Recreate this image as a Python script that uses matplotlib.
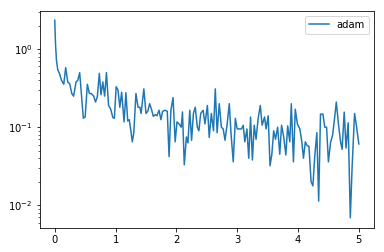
import numpy as np
import matplotlib
matplotlib.use("Agg")
import matplotlib.pyplot as plt

# loss readings (x, value) taken off the curve
x = [0, 0.012, 0.028, 0.05, 0.077, 0.11, 0.148, 0.18, 0.213, 0.246,
     0.28, 0.31, 0.35, 0.38, 0.41, 0.44, 0.47, 0.50, 0.536, 0.57,
     0.60, 0.64, 0.67, 0.70, 0.733, 0.76, 0.79, 0.82, 0.85, 0.885,
     0.92, 0.955, 0.98, 1.01, 1.04, 1.07, 1.10, 1.14, 1.17, 1.20,
     1.225, 1.25, 1.275, 1.30, 1.335, 1.37, 1.40, 1.42, 1.465, 1.50,
     1.53, 1.56, 1.59, 1.62, 1.655, 1.68, 1.715, 1.745, 1.775, 1.81,
     1.85, 1.88, 1.91, 1.945, 1.98, 2.01, 2.045, 2.08, 2.10, 2.13,
     2.165, 2.19, 2.22, 2.25, 2.28, 2.31, 2.345, 2.37, 2.40, 2.44,
     2.47, 2.51, 2.54, 2.575, 2.61, 2.64, 2.67, 2.705, 2.74, 2.77,
     2.80, 2.835, 2.87, 2.90, 2.935, 2.97, 3.00, 3.03, 3.07, 3.10,
     3.125, 3.16, 3.19, 3.22, 3.25, 3.28, 3.31, 3.345, 3.38, 3.41,
     3.45, 3.475, 3.51, 3.54, 3.57, 3.60, 3.63, 3.665, 3.70, 3.73,
     3.765, 3.80, 3.83, 3.865, 3.89, 3.925, 3.955, 3.99, 4.03, 4.06,
     4.09, 4.12, 4.15, 4.18, 4.215, 4.245, 4.275, 4.31, 4.34, 4.37,
     4.41, 4.44, 4.47, 4.50, 4.535, 4.57, 4.60, 4.63, 4.665, 4.70,
     4.725, 4.76, 4.79, 4.825, 4.86, 4.89, 4.93, 4.96, 5.0]
adam = [2.35, 1.18, 0.72, 0.54, 0.49, 0.40, 0.355, 0.58, 0.38, 0.36,
        0.27, 0.25, 0.38, 0.40, 0.50, 0.25, 0.13, 0.135, 0.355, 0.27,
        0.27, 0.25, 0.21, 0.245, 0.49, 0.26, 0.38, 0.25, 0.50, 0.19,
        0.17, 0.133, 0.13, 0.33, 0.30, 0.18, 0.28, 0.117, 0.276, 0.12,
        0.125, 0.092, 0.065, 0.085, 0.27, 0.18, 0.18, 0.15, 0.31, 0.15,
        0.16, 0.20, 0.17, 0.138, 0.145, 0.14, 0.165, 0.125, 0.16, 0.165,
        0.16, 0.042, 0.165, 0.24, 0.065, 0.117, 0.11, 0.10, 0.157, 0.033,
        0.075, 0.063, 0.165, 0.068, 0.15, 0.18, 0.10, 0.09, 0.15, 0.165,
        0.11, 0.19, 0.074, 0.15, 0.09, 0.31, 0.085, 0.20, 0.10, 0.095,
        0.068, 0.11, 0.20, 0.08, 0.036, 0.13, 0.095, 0.095, 0.095, 0.106,
        0.065, 0.095, 0.04, 0.135, 0.038, 0.106, 0.07, 0.13, 0.19, 0.106,
        0.135, 0.095, 0.14, 0.032, 0.045, 0.09, 0.07, 0.10, 0.045, 0.106,
        0.075, 0.044, 0.104, 0.065, 0.20, 0.036, 0.17, 0.11, 0.095, 0.068,
        0.04, 0.065, 0.058, 0.057, 0.020, 0.0177, 0.042, 0.085, 0.0113, 0.147,
        0.147, 0.10, 0.10, 0.036, 0.063, 0.08, 0.127, 0.21, 0.11, 0.065,
        0.052, 0.156, 0.054, 0.114, 0.0069, 0.031, 0.15, 0.106, 0.061]

fig = plt.figure(figsize=(384/72, 252/72), dpi=72)
ax = fig.add_axes([0.103, 0.095, 0.871, 0.863])
ax.plot(x, adam, label='adam')
ax.set_yscale('log')
ax.set_xlim(-0.25, 5.25)
ax.set_ylim(0.0051, 3.12)
ax.legend(loc='upper right')

fig.savefig('out.png', dpi=72)
